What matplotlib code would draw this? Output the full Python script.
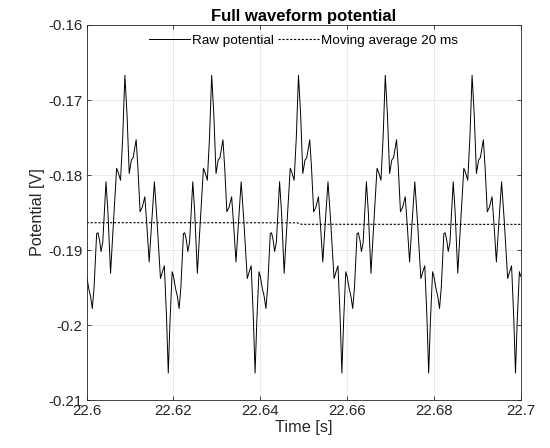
import numpy as np
import matplotlib
matplotlib.use("Agg")
import matplotlib.pyplot as plt
from matplotlib.ticker import MultipleLocator, FuncFormatter

plt.rcParams['font.family'] = ['Liberation Sans', 'DejaVu Sans']
plt.rcParams['axes.unicode_minus'] = False

# one cycle of the raw potential (ms into cycle, V)
cycle_ms = [0.0, 0.5, 0.9, 1.3, 1.7, 2.3, 2.6, 3.0, 3.3, 3.7, 4.45, 4.9,
            5.5, 6.0, 6.9, 7.3, 7.8, 8.3, 8.8, 9.3, 9.8, 10.3, 10.7, 11.4,
            11.8, 12.3, 12.8, 13.4, 13.9, 14.4, 14.9, 15.6, 16.2, 17.0,
            17.4, 17.9, 18.4, 18.8, 19.2, 19.7]
cycle_v = [-0.1935, -0.1952, -0.1962, -0.1978, -0.1950, -0.1878, -0.1877,
           -0.1888, -0.1902, -0.1890, -0.1809, -0.1850, -0.1931, -0.1880,
           -0.1791, -0.1797, -0.1807, -0.1750, -0.1667, -0.1720, -0.1798,
           -0.1780, -0.1777, -0.1753, -0.1790, -0.1849, -0.1843, -0.1829,
           -0.1870, -0.1916, -0.1870, -0.1809, -0.1860, -0.1938, -0.1930,
           -0.1921, -0.1990, -0.2064, -0.1995, -0.1929]
n_cycles = 5
period_ms = 20.0
t_start = 22.6

# 20 ms moving average (nearly flat, small step near 22.649 s)
ma_t = [22.6, 22.62, 22.64, 22.6485, 22.6495, 22.66, 22.68, 22.7]
ma_v = [-0.18636, -0.18636, -0.18637, -0.18637, -0.18657, -0.18657,
        -0.18658, -0.18658]

xticks = [22.6, 22.62, 22.64, 22.66, 22.68, 22.7]

# build the raw trace from the repeating cycle
t_raw = []
v_raw = []
for k in range(n_cycles):
    for ms, v in zip(cycle_ms, cycle_v):
        t_raw.append(t_start + (k * period_ms + ms) / 1000.0)
        v_raw.append(v)
t_raw.append(t_start + n_cycles * period_ms / 1000.0)
v_raw.append(cycle_v[0])

fig = plt.figure(figsize=(5.5, 4.48), dpi=100)
ax = fig.add_axes([0.1576, 0.1071, 0.7891, 0.8371])

ax.plot(t_raw, v_raw, color='black', lw=0.7, label='Raw potential')
ax.plot(ma_t, ma_v, color='black', lw=0.8, linestyle=(0, (2, 1.5)),
        label='Moving average 20 ms')

ax.set_xlim(22.6, 22.7)
ax.set_ylim(-0.21, -0.16)
ax.set_xticks(xticks)
ax.yaxis.set_major_locator(MultipleLocator(0.01))
fmt = FuncFormatter(lambda v, p: '%g' % round(v, 4))
ax.xaxis.set_major_formatter(fmt)
ax.yaxis.set_major_formatter(fmt)

ax.grid(True, color='#e6e6e6', lw=0.6)
ax.set_axisbelow(True)
for s in ax.spines.values():
    s.set_color('#262626')
    s.set_linewidth(0.6)
ax.tick_params(direction='in', length=3, width=0.6, color='#262626',
               labelsize=10.8, labelcolor='#262626', top=True, right=True, pad=3)

ax.set_xlabel('Time [s]', fontsize=11.7, color='#262626', labelpad=1)
ax.set_ylabel('Potential [V]', fontsize=11.7, color='#262626', labelpad=2)
ax.set_title('Full waveform potential', fontsize=12, fontweight='bold', pad=3)

ax.legend(loc='upper center', ncol=2, frameon=False, fontsize=9.7,
          handlelength=3.0, handletextpad=0.2, columnspacing=0.3,
          borderaxespad=0.3)

fig.savefig('out.png', dpi=100)
